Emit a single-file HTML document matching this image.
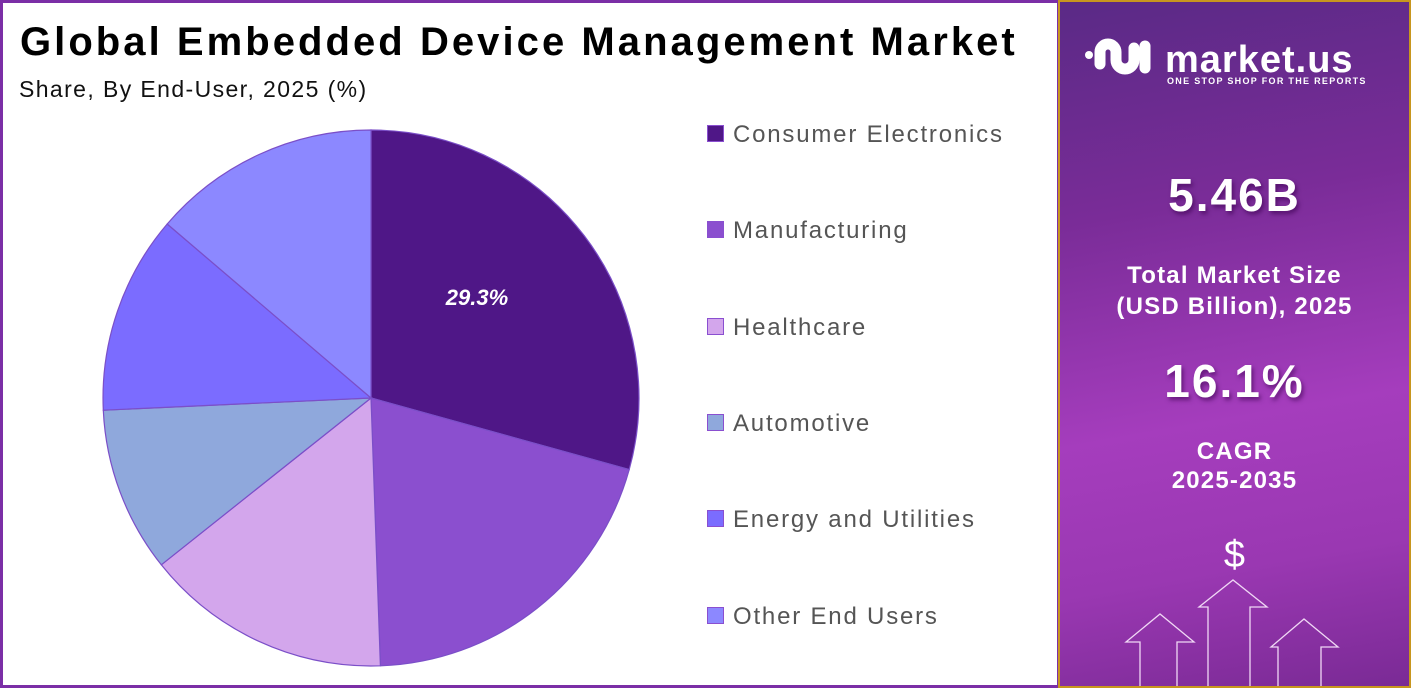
<!DOCTYPE html>
<html><head><meta charset="utf-8"><style>
body{margin:0;width:1411px;height:688px;overflow:hidden;background:#fff;font-family:"Liberation Sans",sans-serif;position:relative}
.left{position:absolute;left:0;top:0;width:1054px;height:682px;border:3px solid #7b2fa6;border-right:2px solid #7b2fa6;background:#fff}
.title{position:absolute;left:17px;top:17px;font-size:40px;font-weight:bold;color:#000;letter-spacing:3.05px;white-space:nowrap}
.sub{position:absolute;left:16px;top:73px;font-size:23px;color:#111;letter-spacing:1.4px}
.leg{position:absolute;left:707px;font-size:24px;color:#555;height:28px;line-height:28px;letter-spacing:1.8px;white-space:nowrap}
.leg span{display:inline-block;width:15px;height:15px;border:1.5px solid #8a4fd0;vertical-align:middle;margin-right:9px;position:relative;top:-2px}
.right{position:absolute;left:1058px;top:0;width:349px;height:684px;border:2px solid #c8961e;background:linear-gradient(170deg,#5a2a86 0%,#7a2c98 30%,#a53dbd 60%,#9a38b2 80%,#7a2a95 100%);color:#fff;text-align:center;overflow:hidden}
.big{font-weight:bold;font-size:46px;letter-spacing:2px;text-shadow:2px 3px 4px rgba(60,0,80,.6)}
.mid{font-weight:bold;font-size:24px;line-height:31px;letter-spacing:1.2px}
</style></head><body>
<div class="left">
<div class="title">Global Embedded Device Management Market</div>
<div class="sub">Share, By End-User, 2025 (%)</div>
</div>
<svg style="position:absolute;left:0;top:0" width="1058" height="688">
<g stroke="#7b4fc8" stroke-width="1.2">
<path d="M371,398 L371,130 A268,268 0 0 1 629.2,469.6 Z" fill="#4f1787"/>
<path d="M371,398 L629.2,469.6 A268,268 0 0 1 380.4,665.8 Z" fill="#8b4fcf"/>
<path d="M371,398 L380.4,665.8 A268,268 0 0 1 161.3,564.8 Z" fill="#d3a6ec"/>
<path d="M371,398 L161.3,564.8 A268,268 0 0 1 103.3,410.2 Z" fill="#8fa8dc"/>
<path d="M371,398 L103.3,410.2 A268,268 0 0 1 167.2,224 Z" fill="#7b6cff"/>
<path d="M371,398 L167.2,224 A268,268 0 0 1 371,130 Z" fill="#8c88ff"/>
</g>
<text x="477" y="305" text-anchor="middle" fill="#fff" font-size="22" font-weight="bold" font-style="italic" font-family="Liberation Sans">29.3%</text>
</svg>
<div class="leg" style="top:121px"><span style="background:#4f1787"></span>Consumer Electronics</div>
<div class="leg" style="top:217px"><span style="background:#8b4fcf"></span>Manufacturing</div>
<div class="leg" style="top:314px"><span style="background:#d3a6ec"></span>Healthcare</div>
<div class="leg" style="top:410px"><span style="background:#8fa8dc"></span>Automotive</div>
<div class="leg" style="top:506px"><span style="background:#7b6cff"></span>Energy and Utilities</div>
<div class="leg" style="top:603px"><span style="background:#8c88ff"></span>Other End Users</div>
<div class="right">
<svg style="position:absolute;left:0;top:0" width="349" height="688" fill="none">
<g stroke="#fff" stroke-linecap="round" stroke-width="11">
<circle cx="29" cy="53" r="4" fill="#fff" stroke="none"/>
<path d="M40,62 V50 A8,8 0 0 1 56,50 V58 A9,9 0 0 0 74,58 V46"/>
<path d="M85,44 V66"/>
</g>
<g stroke="#f0d8f5" stroke-width="1.3">
<path d="M80,688 V640 H66 L100,612 L134,640 H117 V688"/>
<path d="M148,688 V605 H139 L173,578 L207,605 H190 V688"/>
<path d="M218,688 V645 H211 L244,617 L278,645 H261 V688"/>
</g>
</svg>
<div style="position:absolute;left:105px;top:38px;font-size:38px;font-weight:bold;letter-spacing:1px;line-height:40px">market.us</div>
<div style="position:absolute;left:107px;top:74px;font-size:9px;font-weight:bold;letter-spacing:1.3px">ONE STOP SHOP FOR THE REPORTS</div>
<div class="big" style="position:absolute;left:0;width:349px;top:166px">5.46B</div>
<div class="mid" style="position:absolute;left:0;width:349px;top:258px">Total Market Size<br>(USD Billion), 2025</div>
<div class="big" style="position:absolute;left:0;width:349px;top:352px">16.1%</div>
<div class="mid" style="position:absolute;left:0;width:349px;top:435px;line-height:29px">CAGR<br>2025-2035</div>
<div style="position:absolute;left:0;width:349px;top:532px;font-size:38px;color:#fff">$</div>
</div>
</body></html>
